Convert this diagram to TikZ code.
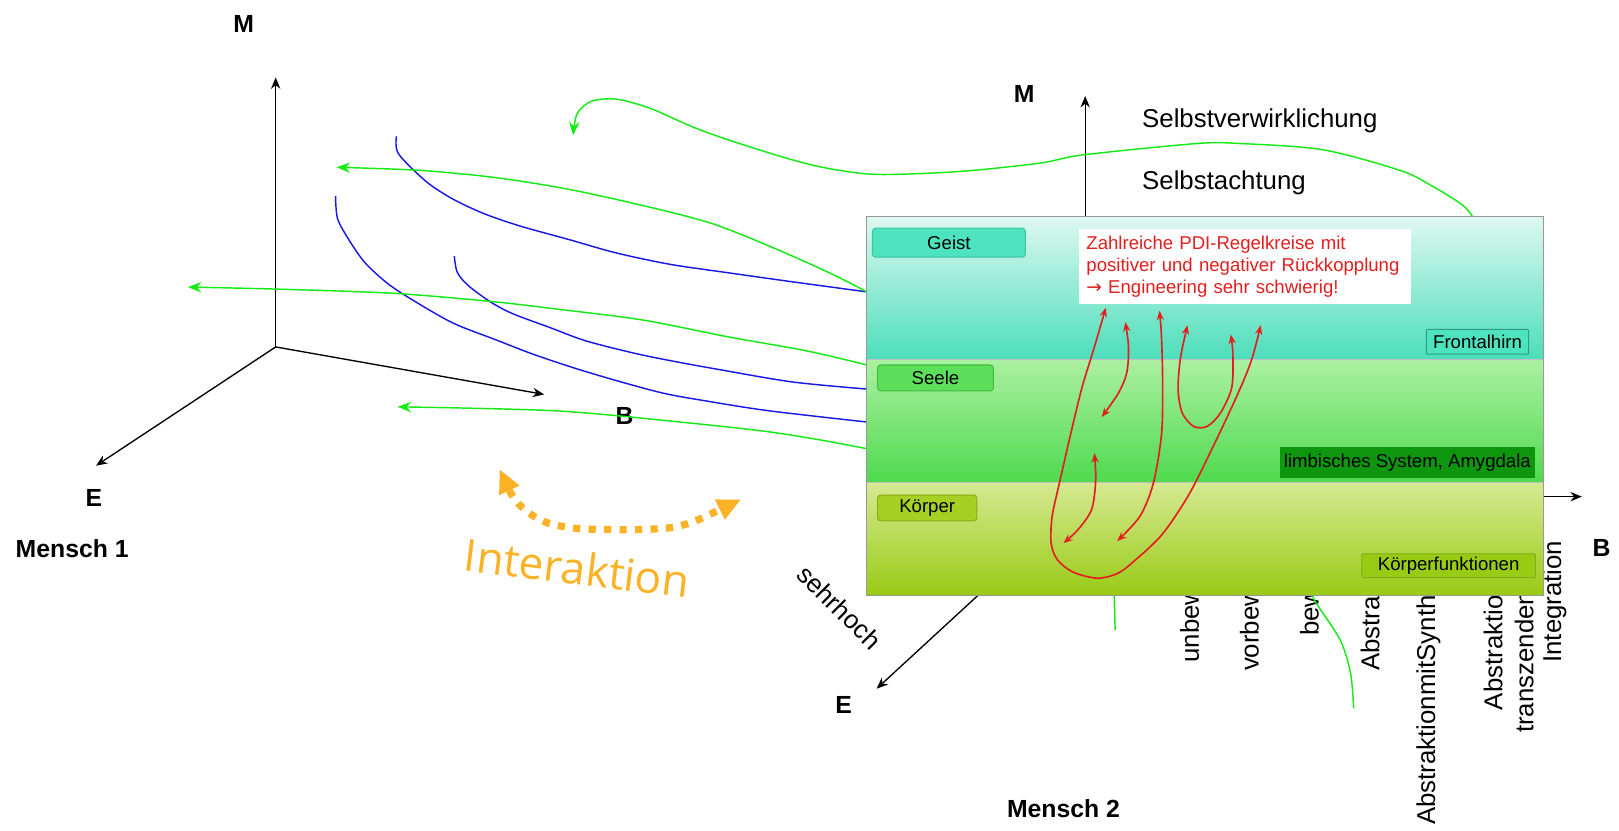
\documentclass[tikz,border=0pt]{standalone}
\usepackage{fontspec}
\setmainfont{Liberation Sans}
\newfontfamily\interfont{Open Sans}
\newfontfamily\pfeilfont{DejaVu Sans}
\usepackage{tikz}
\usetikzlibrary{arrows.meta}
\definecolor{lineblue}{RGB}{24,24,230}
\definecolor{linegreen}{RGB}{20,235,20}
\definecolor{loopred}{RGB}{228,30,30}
\definecolor{interorange}{RGB}{252,178,38}
\definecolor{geisttop}{RGB}{222,248,240}
\definecolor{geistbot}{RGB}{76,222,186}
\definecolor{seeletop}{RGB}{172,240,162}
\definecolor{seelebot}{RGB}{78,218,78}
\definecolor{koerpertop}{RGB}{214,233,146}
\definecolor{koerperbot}{RGB}{152,203,20}
\definecolor{geistbox}{RGB}{77,227,190}
\definecolor{geistrand}{RGB}{58,198,162}
\definecolor{seelebox}{RGB}{92,224,92}
\definecolor{seelerand}{RGB}{60,190,60}
\definecolor{koerperbox}{RGB}{166,208,36}
\definecolor{koerperrand}{RGB}{132,172,22}
\definecolor{limbbox}{RGB}{15,150,15}
\tikzstyle{achse} = [line width=1.3pt,-{Stealth[length=11pt,width=9pt]}]
\tikzstyle{achsname} = [inner sep=0pt,anchor=base,font=\bfseries\fontsize{24}{24}\selectfont]
\tikzstyle{fluss} = [linegreen,line width=1.4pt,-{Stealth[length=13pt,width=10pt]}]
\tikzstyle{spur} = [lineblue,line width=1.4pt]
\tikzstyle{kreis} = [loopred,line width=1.6pt,{Stealth[length=9pt,width=7pt]}-{Stealth[length=9pt,width=7pt]}]
\tikzstyle{stufe} = [rotate=90,anchor=base west,inner sep=0pt,font=\fontsize{25}{25}\selectfont]
\tikzstyle{ebene} = [draw,line width=1pt,rounded corners=3pt,inner sep=0pt,font=\fontsize{18}{18}\selectfont]
\tikzstyle{stufentext} = [anchor=base west,inner sep=0pt,font=\fontsize{25}{25}\selectfont]

\begin{document}
\begin{tikzpicture}[x=1pt,y=-1pt]
	\useasboundingbox (0,0) rectangle (1568,804);
	\coordinate (Lo) at (267,336);
	\coordinate (LM) at (267,75);
	\coordinate (LB) at (527,382);
	\coordinate (LE) at (93,451);
	\coordinate (Ro) at (1051,481);
	\coordinate (RM) at (1051,93);
	\coordinate (RB) at (1532,481);
	\coordinate (RE) at (849,667);

	\draw[achse] (Lo) -- (LM);
	\draw[achse] (Lo) -- (LB);
	\draw[achse] (Lo) -- (LE);
	\node[achsname] (lM) at (236,31) {M};
	\node[achsname] (lB) at (605,411) {B};
	\node[achsname] (lE) at (91,491) {E};
	\node[achsname,anchor=base west] (mensch1) at (15,540) {Mensch 1};

	\node[stufe] (unbew) at (1161,642) {unbew};
	\node[stufe] (vorbew) at (1219,650) {vorbew};
	\node[stufe] (bew) at (1277,616) {bew};
	\node[stufe] (abstr) at (1336,650) {Abstrak};
	\node[stufe] (synth) at (1390,799) {AbstraktionmitSynth};
	\node[stufe] (abstrtr) at (1455,688) {Abstraktion};
	\node[stufe] (transz) at (1485,710) {transzenden};
	\node[stufe] (integr) at (1512,642) {Integration};
	\node[font=\fontsize{25}{25}\selectfont,rotate=-45,inner sep=0pt] (sehrhoch) at (813,588) {sehrhoch};

	\draw[achse] (Ro) -- (RM);
	\draw[achse] (Ro) -- (RB);
	\draw[achse] (Ro) -- (RE);
	\node[achsname] (rM) at (992,99) {M};
	\node[achsname] (rB) at (1551,539) {B};
	\node[achsname] (rE) at (817,691) {E};
	\node[achsname] (mensch2) at (1030,792) {Mensch 2};

	\draw[spur] plot[smooth] coordinates {(384,132) (386,149) (413,176) (439,193) (469,207) (504,219) (551,232) (597,245) (649,256) (704,264) (768,273) (842,283)};
	\draw[spur] plot[smooth] coordinates {(325,190) (327,212) (339,234) (354,255) (376,275) (402,292) (439,313) (480,329) (519,344) (571,361) (639,380) (688,389) (746,398) (842,409)};
	\draw[spur] plot[smooth] coordinates {(440,248) (443,264) (454,277) (476,293) (497,304) (532,317) (567,330) (614,342) (653,350) (697,358) (768,370) (842,377)};

	\draw[fluss] plot[smooth] coordinates {(1428,213) (1417,199) (1385,179) (1356,165) (1281,145) (1201,139) (1159,139) (1049,150) (1007,158) (930,166) (852,169) (807,164) (768,155) (710,137) (671,123) (630,105) (597,96) (573,98) (559,110) (555,131)};
	\draw[fluss] plot[smooth] coordinates {(842,284) (807,266) (749,240) (688,216) (618,198) (549,183) (480,172) (407,165) (326,162)};
	\draw[fluss] plot[smooth] coordinates {(842,354) (782,340) (704,326) (623,310) (545,300) (476,292) (380,284) (268,280) (182,278)};
	\draw[fluss] plot[smooth] coordinates {(842,435) (794,426) (743,418) (671,410) (540,398) (385,394)};
	\draw[fluss,-] (1079,575) -- (1080,610);
	\draw[fluss,-] plot[smooth] coordinates {(1271,575) (1274,583) (1298,620) (1308,652) (1311,686)};

	\shade[top color=geisttop,bottom color=geistbot] (839,210) rectangle (1495,348);
	\shade[top color=seeletop,bottom color=seelebot] (839,348) rectangle (1495,467);
	\shade[top color=koerpertop,bottom color=koerperbot] (839,467) rectangle (1495,577);
	\draw[black!25,line width=1pt] (839,348) -- (1495,348) (839,467) -- (1495,467);
	\draw[black!40,line width=1pt] (839,210) rectangle (1495,577);

	\node[ebene,fill=geistbox,draw=geistrand,minimum width=148pt,minimum height=28pt] (geist) at (919,235) {Geist};
	\node[ebene,fill=seelebox,draw=seelerand,minimum width=112pt,minimum height=25pt] (seele) at (906,366) {Seele};
	\node[ebene,fill=koerperbox,draw=koerperrand,minimum width=96pt,minimum height=25pt] (koerper) at (898,492) {Körper};
	\node[ebene,fill=geistbox,draw=geistrand!80!black,rounded corners=1pt,minimum width=99pt,minimum height=24pt] (frontal) at (1431,331) {Frontalhirn};
	\node[ebene,fill=limbbox,draw=limbbox,rounded corners=0pt,minimum width=246pt,minimum height=29pt] (limbisch) at (1363,448) {limbisches System, Amygdala};
	\node[ebene,fill=koerperbot,draw=koerperrand,rounded corners=1pt,minimum width=168pt,minimum height=23pt] (kfunktion) at (1403,548) {Körperfunktionen};

	\draw[kreis] plot[smooth] coordinates {(1071,298) (1059,339) (1048,375) (1037,420) (1026,468) (1019,500) (1018,526) (1024,542) (1039,554) (1063,560) (1083,555) (1100,542) (1126,517) (1152,478) (1178,426) (1199,381) (1212,349) (1221,315)};
	\draw[kreis] plot[smooth] coordinates {(1090,312) (1093,339) (1091,362) (1083,381) (1067,404)};
	\draw[kreis] plot[smooth] coordinates {(1123,301) (1125,329) (1126,371) (1125,420) (1117,468) (1104,500) (1082,524)};
	\draw[kreis] plot[smooth] coordinates {(1150,315) (1143,349) (1141,378) (1145,400) (1156,413) (1169,413) (1182,400) (1193,375) (1194,342) (1192,324)};
	\draw[kreis] plot[smooth] coordinates {(1060,439) (1061,468) (1057,494) (1044,513) (1030,526)};
	\node[fill=white,text=loopred,align=left,anchor=north west,text width=307pt,minimum height=72pt,inner xsep=7pt,inner ysep=0pt,font=\fontsize{18}{21.5}\selectfont] (hinweis) at (1045,222) {Zahlreiche PDI-Regelkreise mit\\positiver und negativer Rückkopplung\\{\pfeilfont →} Engineering sehr schwierig!};

	\node[stufentext] (verwirkl) at (1106,123) {Selbstverwirklichung};
	\node[stufentext] (achtung) at (1106,184) {Selbstachtung};

	\draw[interorange,line width=7pt,dash pattern=on 7pt off 8pt,{Triangle[length=22pt,width=22pt,line width=0pt]}-{Triangle[length=22pt,width=22pt,line width=0pt]}] plot[smooth] coordinates {(484,455) (499,484) (514,498) (532,507) (562,512) (613,513) (650,511) (672,505) (692,496) (717,484)};
	\node[text=interorange,font=\interfont\fontsize{43}{43}\selectfont,rotate=-7,inner sep=0pt] (interaktion) at (559,550) {Interaktion};
\end{tikzpicture}
\end{document}
